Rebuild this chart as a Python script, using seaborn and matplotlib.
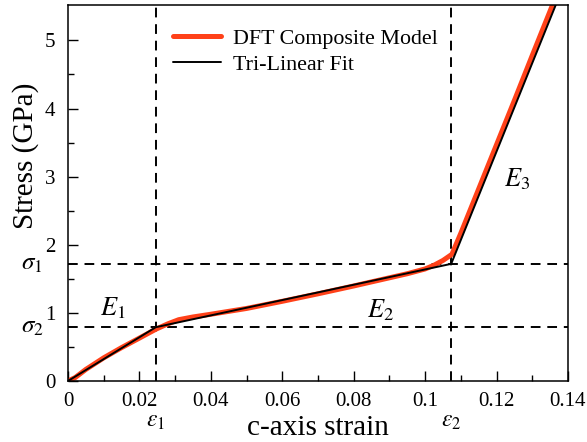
import numpy as np
import pandas as pd
import matplotlib
matplotlib.use("Agg")
import matplotlib.pyplot as plt
import seaborn as sns

# DFT composite model stress-strain response
dft_strain = [0.0, 0.002, 0.005, 0.010, 0.015, 0.020, 0.0246, 0.028, 0.031, 0.035,
              0.040, 0.050, 0.060, 0.070, 0.080, 0.090, 0.095, 0.100, 0.1025,
              0.105, 0.1075, 0.110, 0.115, 0.120, 0.125, 0.130, 0.1359]
dft_stress = [0.0, 0.05, 0.17, 0.34, 0.49, 0.63, 0.76, 0.84, 0.90, 0.94,
              0.98, 1.065, 1.17, 1.28, 1.395, 1.515, 1.575, 1.645, 1.70,
              1.77, 1.86, 2.17, 2.82, 3.47, 4.12, 4.78, 5.55]

# Tri-linear fit breakpoints
fit_strain = [0.0, 0.0246, 0.1073, 0.1368]
fit_stress = [0.0, 0.79, 1.72, 5.55]

eps_marks = [0.0246, 0.1073]
sigma_marks = [1.72, 0.80]
eps_labels = [r"$\varepsilon_1$", r"$\varepsilon_2$"]
sigma_labels = [r"$\sigma_1$", r"$\sigma_2$"]

x_ticks = [0, 0.02, 0.04, 0.06, 0.08, 0.1, 0.12, 0.14]
x_tick_labels = ["0", "0.02", "0.04", "0.06", "0.08", "0.1", "0.12", "0.14"]
y_ticks = [0, 1, 2, 3, 4, 5]

sns.set_style("ticks")
plt.rcParams["font.family"] = ["Liberation Serif", "DejaVu Serif"]
plt.rcParams["mathtext.fontset"] = "stix"
plt.rcParams["text.color"] = "black"
plt.rcParams["axes.labelcolor"] = "black"
plt.rcParams["xtick.color"] = "black"
plt.rcParams["ytick.color"] = "black"
plt.rcParams["axes.edgecolor"] = "black"

df_dft = pd.DataFrame({"strain": dft_strain, "stress": dft_stress})
df_fit = pd.DataFrame({"strain": fit_strain, "stress": fit_stress})

fig = plt.figure(figsize=(5.87, 4.42), dpi=100)
ax = fig.add_axes([0.1158, 0.138, 0.8518, 0.8507])

# reference lines at the transition points
for e in eps_marks:
    ax.axvline(e, color="black", lw=1.4, ls=(0, (5, 3.5)), zorder=1)
for s in sigma_marks:
    ax.axhline(s, color="black", lw=1.4, ls=(0, (5, 3.5)), zorder=1)

sns.lineplot(data=df_dft, x="strain", y="stress", ax=ax, color="#FF4119",
             lw=3.6, sort=False, label="DFT Composite Model", zorder=2)
sns.lineplot(data=df_fit, x="strain", y="stress", ax=ax, color="black",
             lw=1.4, sort=False, label="Tri-Linear Fit", zorder=3)

ax.set_xlim(0, 0.14)
ax.set_ylim(0, 5.52)
ax.set_xticks(x_ticks)
ax.set_xticklabels(x_tick_labels)
ax.set_yticks(y_ticks)
ax.set_xticks(np.arange(0.01, 0.14, 0.02), minor=True)
ax.set_yticks(np.arange(0.5, 5.5, 1.0), minor=True)
ax.tick_params(axis="both", which="major", direction="in", length=7, width=1.0,
               labelsize=15)
ax.tick_params(axis="x", which="major", pad=8)
ax.tick_params(axis="y", which="major", pad=9)
ax.tick_params(axis="both", which="minor", direction="in", length=4, width=1.0)
for sp in ax.spines.values():
    sp.set_linewidth(1.1)
    sp.set_visible(True)

ax.set_xlabel("c-axis strain", fontsize=21, labelpad=3)
ax.set_ylabel("Stress (GPa)", fontsize=21)
ax.yaxis.set_label_coords(-0.057, 0.60)

# symbolic labels for the transition points
xt = ax.get_xaxis_transform()
yt = ax.get_yaxis_transform()
for e, lab in zip(eps_marks, eps_labels):
    ax.text(e, -0.108, lab, transform=xt, ha="center", va="center", fontsize=17,
            clip_on=False)
for s, lab in zip(sigma_marks, sigma_labels):
    ax.text(-0.072, s, lab, transform=yt, ha="center", va="center", fontsize=18,
            clip_on=False)

ax.text(0.0126, 1.07, r"$E_1$", fontsize=19, ha="center", va="center")
ax.text(0.0874, 1.04, r"$E_2$", fontsize=19, ha="center", va="center")
ax.text(0.1257, 2.96, r"$E_3$", fontsize=19, ha="center", va="center")

leg = ax.legend(loc="upper left", bbox_to_anchor=(0.17, 0.99), frameon=False,
                fontsize=15.8, handlelength=2.2, handletextpad=0.55, labelspacing=0.25)

fig.savefig("out.png", dpi=100)
